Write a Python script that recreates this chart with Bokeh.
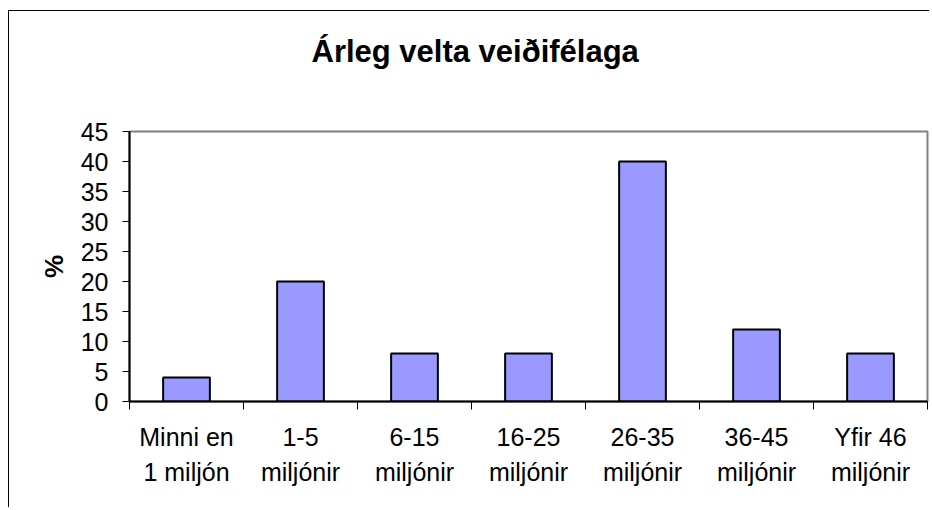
from bokeh.plotting import figure
from bokeh.models import FixedTicker, Range1d, Title
from bokeh.embed import file_html
from bokeh.resources import INLINE

# ---- data ----
categories = ["Minni en\n1 miljón", "1-5\nmiljónir", "6-15\nmiljónir", "16-25\nmiljónir",
              "26-35\nmiljónir", "36-45\nmiljónir", "Yfir 46\nmiljónir"]
values = [4, 20, 8, 8, 40, 12, 8]
y_ticks = [0, 5, 10, 15, 20, 25, 30, 35, 40, 45]
title_text = "Árleg velta veiðifélaga"
y_label = "%"

FONT = "Liberation Sans"
n = len(categories)
centers = [i + 0.5 for i in range(n)]
bounds = list(range(n + 1))

p = figure(frame_width=798, frame_height=270,
           x_range=Range1d(0, n), y_range=Range1d(0, y_ticks[-1]),
           output_backend="svg", toolbar_location=None,
           min_border_left=120, min_border_right=2,
           min_border_top=120, min_border_bottom=106,
           background_fill_color="white", border_fill_color="white")
p.title_location = None
p.styles = {"border-top": "1px solid black", "border-left": "1px solid black",
            "position": "relative", "top": "10px", "left": "8px"}

spacer = Title(text=" ", text_font_size="10px", standoff=30)
main_title = Title(text=title_text, align="left", offset=182, standoff=40,
                   text_font=FONT, text_font_size="31px", text_font_style="bold",
                   text_color="black")
p.add_layout(spacer, "above")
p.add_layout(main_title, "above")

p.xgrid.visible = False
p.ygrid.visible = False
p.outline_line_color = "#808080"
p.outline_line_width = 2

p.vbar(x=centers, top=values, width=0.41, bottom=0,
       fill_color="#9999FF", line_color="black", line_width=2)

xa = p.xaxis[0]
xa.ticker = FixedTicker(ticks=centers, minor_ticks=bounds)
xa.major_label_overrides = {c: lab for c, lab in zip(centers, categories)}
xa.major_tick_out = 0
xa.major_tick_in = 0
xa.minor_tick_out = 8
xa.minor_tick_in = 0
xa.minor_tick_line_color = "black"
xa.axis_line_color = "black"
xa.axis_line_width = 2
xa.major_label_text_font = FONT
xa.major_label_text_font_size = "25px"
xa.major_label_text_color = "black"
xa.major_label_text_line_height = 1.25
xa.major_label_standoff = 13

ya = p.yaxis[0]
ya.ticker = FixedTicker(ticks=y_ticks)
ya.major_tick_out = 7
ya.major_tick_in = 0
ya.minor_tick_out = 0
ya.minor_tick_in = 0
ya.major_tick_line_color = "black"
ya.axis_line_color = "black"
ya.axis_line_width = 2
ya.major_label_text_font = FONT
ya.major_label_text_font_size = "25px"
ya.major_label_text_color = "black"
ya.major_label_standoff = 14
ya.axis_label = y_label
ya.axis_label_text_font = FONT
ya.axis_label_text_font_size = "26px"
ya.axis_label_text_font_style = "bold"
ya.axis_label_text_color = "black"
ya.axis_label_standoff = 9

open("out.html", "w").write(file_html(p, INLINE))
